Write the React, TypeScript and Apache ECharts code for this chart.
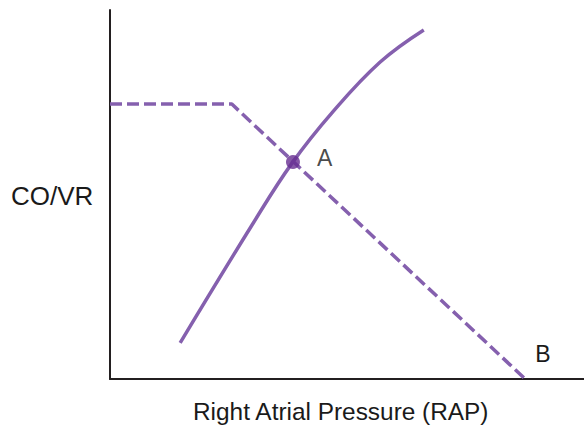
import React, { useEffect, useRef } from "react";
import * as echarts from "echarts";

const curveX = [14.8, 30.0, 38.4, 47.0, 57.0, 66.2];
const curveY = [9.8, 41.8, 58.5, 72.4, 85.9, 94.6];
const vrX = [0, 25.7, 87.6];
const vrY = [74.5, 74.5, 0];
const pointA = [38.6, 58.8];
const pointLabels = ["A", "B"];
const xTitle = "Right Atrial Pressure (RAP)";
const yTitle = "CO/VR";

const PURPLE = "#8560ae";
const DOT = "#662d91";
const TEXT = "#1a1a1a";
const FONT = "'Liberation Sans', Arial, Helvetica, sans-serif";

export default function App() {
  const ref = useRef<HTMLDivElement>(null);
  useEffect(() => {
    document.body.style.margin = "0";
    const chart = echarts.init(ref.current!, null, { renderer: "svg" });
    chart.setOption({
      animation: false,
      grid: { left: 110, top: 10, right: 0, bottom: 50 },
      xAxis: {
        type: "value",
        min: 0,
        max: 100,
        axisLine: { show: true, lineStyle: { color: "#231f20", width: 2 } },
        axisTick: { show: false },
        axisLabel: { show: false },
        splitLine: { show: false },
      },
      yAxis: {
        type: "value",
        min: 0,
        max: 100,
        axisLine: { show: true, lineStyle: { color: "#231f20", width: 2 } },
        axisTick: { show: false },
        axisLabel: { show: false },
        splitLine: { show: false },
      },
      graphic: [
        {
          type: "text",
          left: 11,
          top: 183,
          style: { text: yTitle, fontSize: 26, fontFamily: FONT, fill: TEXT },
        },
        {
          type: "text",
          left: 193,
          top: 399,
          style: { text: xTitle, fontSize: 24.4, fontFamily: FONT, fill: TEXT },
        },
      ],
      series: [
        {
          type: "line",
          data: vrX.map((x, i) => [x, vrY[i]]),
          showSymbol: false,
          lineStyle: { color: PURPLE, width: 3.5, type: [12, 5] },
          z: 2,
          endLabel: {
            show: true,
            formatter: pointLabels[1],
            fontSize: 23,
            fontFamily: FONT,
            color: TEXT,
            offset: [2, -25],
          },
        },
        {
          type: "line",
          data: curveX.map((x, i) => [x, curveY[i]]),
          smooth: 0.4,
          showSymbol: false,
          lineStyle: { color: PURPLE, width: 3.5 },
          z: 3,
        },
        {
          type: "scatter",
          data: [pointA],
          symbolSize: 14,
          itemStyle: { color: DOT },
          z: 4,
          label: {
            show: true,
            formatter: pointLabels[0],
            position: "right",
            distance: 17,
            offset: [0, -4],
            fontSize: 23,
            fontFamily: FONT,
            color: TEXT,
          },
        },
      ],
    });
    return () => chart.dispose();
  }, []);
  return (
    <div
      ref={ref}
      style={{ position: "absolute", left: 0, top: 0, width: 584, height: 429 }}
    />
  );
}
